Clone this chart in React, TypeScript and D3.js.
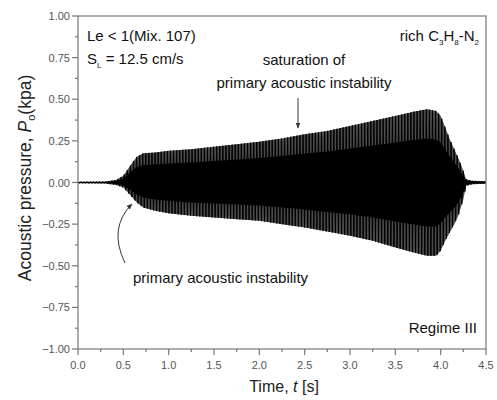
import React from "react";
import * as d3 from "d3";

// Envelope of the acoustic pressure signal
const times = [0, 0.3, 0.42, 0.5, 0.55, 0.6, 0.65, 0.72, 0.85, 1.0, 1.25, 1.5, 1.75, 2.0, 2.25, 2.5, 2.75, 3.0, 3.25, 3.5, 3.7, 3.85, 3.95, 4.0, 4.05, 4.1, 4.15, 4.2, 4.25, 4.28, 4.35, 4.5];
const upper = [0.005, 0.006, 0.015, 0.04, 0.08, 0.12, 0.155, 0.175, 0.18, 0.19, 0.2, 0.215, 0.23, 0.245, 0.265, 0.29, 0.31, 0.34, 0.37, 0.4, 0.425, 0.44, 0.43, 0.4, 0.33, 0.26, 0.2, 0.14, 0.07, 0.02, 0.01, 0.008];
const lower = [-0.005, -0.006, -0.015, -0.03, -0.06, -0.09, -0.12, -0.15, -0.17, -0.185, -0.2, -0.21, -0.22, -0.23, -0.25, -0.27, -0.295, -0.32, -0.35, -0.39, -0.42, -0.44, -0.44, -0.41, -0.35, -0.3, -0.25, -0.19, -0.1, -0.02, -0.01, -0.008];
const cyclePeriod = 0.034; // seconds between visible oscillation spikes

const xTicks = [0, 0.5, 1, 1.5, 2, 2.5, 3, 3.5, 4, 4.5];
const yTicks = [-1, -0.75, -0.5, -0.25, 0, 0.25, 0.5, 0.75, 1];

const W = 497, H = 400;
const left = 78, right = 486, top = 16, bottom = 349;

export default function App() {
  const x = d3.scaleLinear().domain([0, 4.5]).range([left, right]);
  const y = d3.scaleLinear().domain([-1, 1]).range([bottom, top]);
  const up = d3.scaleLinear().domain(times).range(upper);
  const lo = d3.scaleLinear().domain(times).range(lower);

  const env = times.map((t, i) => ({ t, u: upper[i], l: lower[i] }));
  const area = d3.area<any>().x(d => x(d.t)).y0(d => y(d.l)).y1(d => y(d.u));
  const core = d3.area<any>().x(d => x(d.t)).y0(d => y(d.l * 0.6)).y1(d => y(d.u * 0.6));

  const zz: [number, number][] = [];
  for (let t = 0, k = 0; t <= 4.5; t += cyclePeriod / 2, k++) {
    zz.push([x(t), y(k % 2 === 0 ? up(t) : lo(t))]);
  }
  const zig = d3.line()(zz) || "";

  const xMinor = d3.range(0, 4.5001, 0.25);
  const yMinor = d3.range(-1, 1.0001, 0.125);
  const axisColor = "#777";
  const labelFont = "Liberation Sans, Arial, sans-serif";

  return (
    <svg width={W} height={H} style={{ position: "absolute", left: 0, top: 0, background: "#fff" }}>
      <defs>
        <marker id="ah" viewBox="0 0 10 10" refX="9" refY="5" markerWidth="6" markerHeight="6" orient="auto">
          <path d="M0,1 L10,5 L0,9 z" fill="#333" />
        </marker>
      </defs>
      {/* signal */}
      <path d={area(env) || ""} fill="#4a4a4a" />
      <path d={zig} fill="none" stroke="#000" strokeWidth={1} />
      <path d={core(env) || ""} fill="#000" />

      {/* frame */}
      <rect x={left} y={top} width={right - left} height={bottom - top} fill="none" stroke={axisColor} strokeWidth={1.2} />

      {/* y ticks */}
      {yMinor.map((v, i) => (
        <line key={"ym" + i} x1={left} x2={left - (i % 2 === 0 ? 6 : 3)} y1={y(v)} y2={y(v)} stroke={axisColor} strokeWidth={1.2} />
      ))}
      {yTicks.map(v => (
        <text key={"yt" + v} x={left - 8} y={y(v) + 4} textAnchor="end" fontSize={11} fill="#555" fontFamily={labelFont}>
          {d3.format(".2f")(v)}
        </text>
      ))}
      {/* x ticks */}
      {xMinor.map((v, i) => (
        <line key={"xm" + i} y1={bottom} y2={bottom + (i % 2 === 0 ? 6 : 3)} x1={x(v)} x2={x(v)} stroke={axisColor} strokeWidth={1.2} />
      ))}
      {xTicks.map(v => (
        <text key={"xt" + v} x={x(v)} y={bottom + 20} textAnchor="middle" fontSize={11} fill="#555" fontFamily={labelFont}>
          {d3.format(".1f")(v)}
        </text>
      ))}

      {/* axis titles */}
      <text x={284} y={392} textAnchor="middle" fontSize={16} fill="#222" fontFamily={labelFont}>
        Time, <tspan fontStyle="italic">t</tspan> [s]
      </text>
      <text transform={`translate(31,178) rotate(-90)`} textAnchor="middle" fontSize={17.5} fill="#222" fontFamily={labelFont}>
        Acoustic pressure, <tspan fontStyle="italic">P</tspan><tspan fontSize={11} dy={4}>o</tspan><tspan dy={-4}>(kpa)</tspan>
      </text>

      {/* annotations */}
      <g fontFamily={labelFont} fill="#111" fontSize={15}>
        <text x={87} y={41}>Le &lt; 1(Mix. 107)</text>
        <text x={87} y={64}>S<tspan fontSize={8} dy={4}>L</tspan><tspan dy={-4}> = 12.5 cm/s</tspan></text>
        <text x={479} y={41} textAnchor="end">
          rich C<tspan fontSize={8} dy={4}>3</tspan><tspan dy={-4}>H</tspan><tspan fontSize={8} dy={4}>8</tspan><tspan dy={-4}>-N</tspan><tspan fontSize={8} dy={4}>2</tspan>
        </text>
        <text x={304} y={65} textAnchor="middle">saturation of</text>
        <text x={304} y={88} textAnchor="middle">primary acoustic instability</text>
        <text x={133} y={283}>primary acoustic instability</text>
        <text x={477} y={333} textAnchor="end">Regime III</text>
      </g>
      <line x1={298} y1={98} x2={298} y2={128} stroke="#333" strokeWidth={1} markerEnd="url(#ah)" />
      <path d="M125,263 Q108,228 132,204" fill="none" stroke="#333" strokeWidth={1} markerEnd="url(#ah)" />
    </svg>
  );
}
